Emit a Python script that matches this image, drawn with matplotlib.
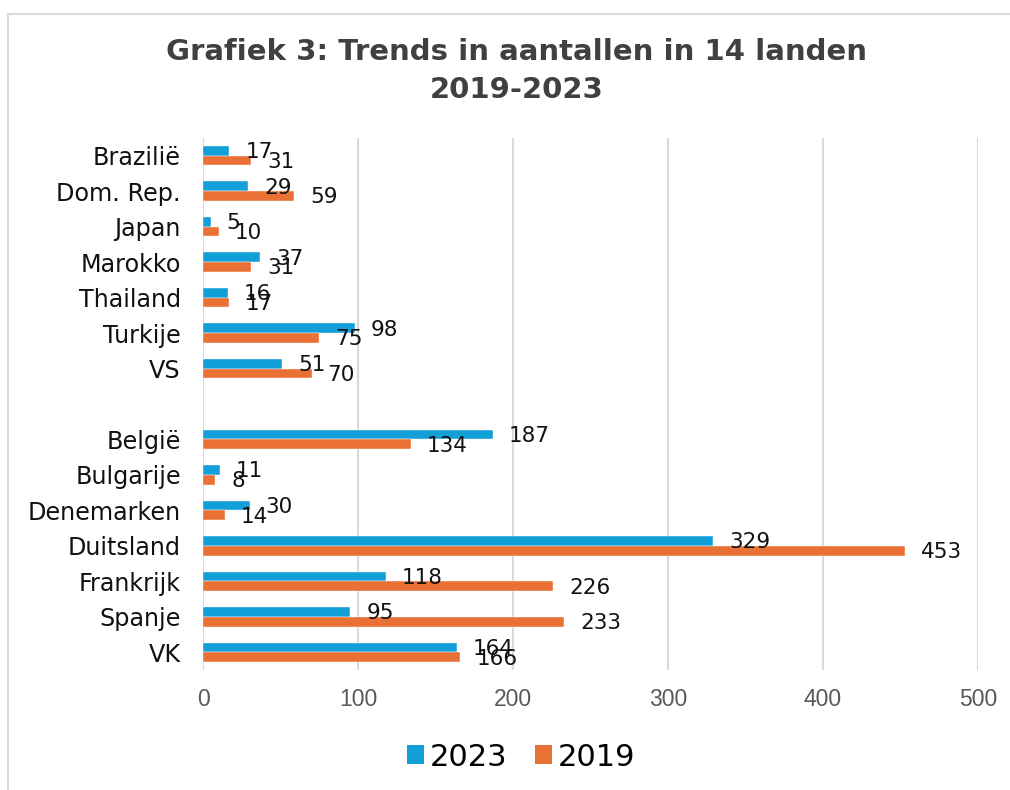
import matplotlib
matplotlib.use("Agg")
import matplotlib.pyplot as plt
from matplotlib.patches import Rectangle, Patch
import numpy as np

# Data
countries_non_eu = ["Brazilië", "Dom. Rep.", "Japan", "Marokko", "Thailand", "Turkije", "VS"]
countries_eu = ["België", "Bulgarije", "Denemarken", "Duitsland", "Frankrijk", "Spanje", "VK"]
values_2023_non_eu = [17, 29, 5, 37, 16, 98, 51]
values_2019_non_eu = [31, 59, 10, 31, 17, 75, 70]
values_2023_eu = [187, 11, 30, 329, 118, 95, 164]
values_2019_eu = [134, 8, 14, 453, 226, 233, 166]
x_ticks = [0, 100, 200, 300, 400, 500]
series_names = ["2023", "2019"]

title = "Grafiek 3: Trends in aantallen in 14 landen\n2019-2023"
color_2023 = "#129FD8"
color_2019 = "#EA7135"

categories = countries_non_eu + countries_eu
v2023 = values_2023_non_eu + values_2023_eu
v2019 = values_2019_non_eu + values_2019_eu
pos = list(range(len(countries_non_eu))) + [len(countries_non_eu) + 1 + i for i in range(len(countries_eu))]
pos = np.array(pos, dtype=float)

fig = plt.figure(figsize=(10.1, 7.9), dpi=100)
fig.patch.set_facecolor("white")

# outer chart border (extends past right/bottom edges like the reference)
fig.patches.append(Rectangle((8 / 1010, -0.05), 1.2, 1 - 14 / 790 + 0.05,
                             transform=fig.transFigure, fill=False,
                             edgecolor="#D9D9D9", linewidth=1.5))

ax = fig.add_axes([203 / 1010, 1 - 670 / 790, (978 - 203) / 1010, (670 - 138) / 790])

bh = 0.275
ax.barh(pos - bh / 2, v2023, height=bh, color=color_2023, edgecolor="white", linewidth=0.3, label=series_names[0], zorder=3)
ax.barh(pos + bh / 2, v2019, height=bh, color=color_2019, edgecolor="white", linewidth=0.3, label=series_names[1], zorder=3)

off = 11.5
for p, v in zip(pos, v2023):
    ax.annotate(str(v), (v, p - bh / 2), xytext=(off, -1), textcoords="offset points",
                ha="left", va="center", fontsize=15.5, color="#111111", family="DejaVu Sans", zorder=4)
for p, v in zip(pos, v2019):
    ax.annotate(str(v), (v, p + bh / 2), xytext=(off, -1), textcoords="offset points",
                ha="left", va="center", fontsize=15.5, color="#111111", family="DejaVu Sans", zorder=4)

ax.set_xlim(0, 500)
ax.set_ylim(pos.max() + 0.5, -0.5)
ax.set_xticks(x_ticks)
ax.set_xticklabels([str(t) for t in x_ticks], family="Liberation Sans", fontsize=16.5, color="#595959")
ax.set_yticks(pos)
ax.set_yticklabels(categories, family="DejaVu Sans", fontsize=17.2, color="#111111")
ax.tick_params(axis="both", length=0)
ax.tick_params(axis="y", pad=16)
ax.tick_params(axis="x", pad=13)
ax.grid(axis="x", color="#D9D9D9", linewidth=1.5, zorder=0)
for s in ax.spines.values():
    s.set_visible(False)

fig.text(517 / 1010, 1 - 71 / 790, title, ha="center", va="center", fontsize=21,
         fontweight="bold", color="#404040", family="DejaVu Sans", linespacing=1.45)

handles = [Patch(facecolor=color_2023, edgecolor="none"), Patch(facecolor=color_2019, edgecolor="none")]
fig.legend(handles, series_names, loc="center", bbox_to_anchor=(521 / 1010, 1 - 757 / 790),
           ncol=2, frameon=False, prop={"family": "DejaVu Sans", "size": 22},
           handlelength=0.55, handleheight=0.55, handletextpad=0.2, columnspacing=0.9)

fig.savefig("out.png", dpi=100)
